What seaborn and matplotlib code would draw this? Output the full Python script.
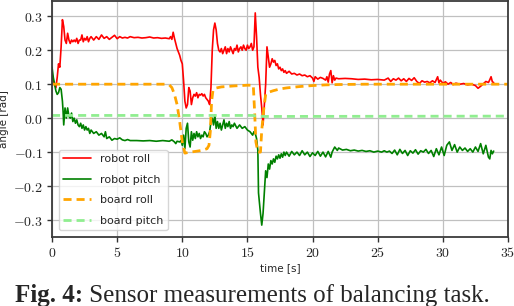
import numpy as np
import pandas as pd
import matplotlib
matplotlib.use('Agg')
import matplotlib.pyplot as plt
from matplotlib.ticker import FuncFormatter
import seaborn as sns

# robot roll (red)
roll_t = [0.0, 0.1, 0.2, 0.3, 0.4, 0.5, 0.6, 0.7, 0.8, 0.9, 1.0, 1.1, 1.2, 1.3, 1.4, 1.5, 1.6, 1.7,
          1.8, 1.9, 2.0, 2.1, 2.2, 2.3, 2.4, 2.5, 2.6, 2.7, 2.8, 2.9, 3.0, 3.2, 3.4, 3.6, 3.8, 4.0,
          4.2, 4.4, 4.6, 4.8, 5.0, 5.2, 5.4, 5.6, 5.8, 6.0, 6.3, 6.6, 6.9, 7.2, 7.5, 7.8, 8.1, 8.4,
          8.7, 9.0, 9.1, 9.2, 9.3, 9.4, 9.5, 9.6, 9.7, 9.8, 9.9, 10.0, 10.1, 10.2, 10.3, 10.4, 10.5,
          10.6, 10.7, 10.8, 10.9, 11.0, 11.1, 11.2, 11.3, 11.4, 11.5, 11.6, 11.7, 11.8, 11.9, 12.0,
          12.1, 12.2, 12.3, 12.4, 12.5, 12.6, 12.7, 12.8, 12.9, 13.0, 13.1, 13.2, 13.3, 13.4, 13.5,
          13.6, 13.7, 13.8, 13.9, 14.0, 14.1, 14.2, 14.3, 14.4, 14.5, 14.6, 14.7, 14.8, 14.9, 15.0,
          15.1, 15.2, 15.3, 15.4, 15.5, 15.6, 15.7, 15.8, 15.9, 16.0, 16.1, 16.2, 16.3, 16.4, 16.5,
          16.6, 16.7, 16.8, 16.9, 17.0, 17.1, 17.2, 17.3, 17.4, 17.5, 17.6, 17.7, 17.8, 17.9, 18.0,
          18.2, 18.4, 18.6, 18.8, 19.0, 19.2, 19.4, 19.6, 19.8, 20.0, 20.1, 20.2, 20.4, 20.6, 20.8,
          21.0, 21.1, 21.2, 21.3, 21.4, 21.5, 21.6, 21.7, 21.8, 22.0, 22.5, 23.0, 23.5, 24.0, 24.5,
          25.0, 25.5, 25.8, 26.0, 26.2, 26.4, 26.6, 26.8, 27.0, 27.2, 27.4, 27.6, 27.8, 28.0, 28.2,
          28.4, 28.6, 28.8, 29.0, 29.2, 29.4, 29.6, 29.7, 29.8, 30.0, 30.2, 30.4, 30.6, 30.8, 31.0,
          31.3, 31.6, 31.9, 32.2, 32.5, 32.7, 32.9, 33.1, 33.3, 33.5, 33.6, 33.7, 33.8, 33.9]
roll_v = [0.13, 0.11, 0.10, 0.09, 0.12, 0.16, 0.15, 0.21, 0.29, 0.27, 0.23, 0.22, 0.25, 0.23, 0.22,
          0.23, 0.225, 0.23, 0.225, 0.235, 0.22, 0.23, 0.23, 0.245, 0.225, 0.235, 0.23, 0.24, 0.225,
          0.235, 0.24, 0.23, 0.24, 0.232, 0.245, 0.235, 0.24, 0.232, 0.238, 0.244, 0.234, 0.24,
          0.236, 0.238, 0.236, 0.24, 0.237, 0.238, 0.236, 0.237, 0.239, 0.236, 0.237, 0.235, 0.236,
          0.234, 0.24, 0.232, 0.253, 0.235, 0.22, 0.205, 0.195, 0.185, 0.17, 0.16, 0.11, 0.05, 0.03,
          0.04, 0.09, 0.08, 0.04, 0.06, 0.07, 0.065, 0.075, 0.06, 0.07, 0.068, 0.072, 0.065, 0.07,
          0.06, 0.055, 0.05, 0.04, 0.09, 0.2, 0.26, 0.28, 0.26, 0.22, 0.2, 0.195, 0.205, 0.19, 0.2,
          0.21, 0.19, 0.205, 0.195, 0.21, 0.2, 0.19, 0.205, 0.2, 0.215, 0.195, 0.205, 0.21, 0.2,
          0.215, 0.205, 0.2, 0.215, 0.205, 0.21, 0.22, 0.2, 0.21, 0.31, 0.24, 0.15, 0.12, 0.07, 0.03,
          -0.02, 0.04, 0.1, 0.21, 0.18, 0.15, 0.16, 0.175, 0.165, 0.17, 0.155, 0.16, 0.145, 0.15,
          0.14, 0.145, 0.135, 0.14, 0.132, 0.138, 0.13, 0.132, 0.127, 0.13, 0.125, 0.127, 0.122,
          0.125, 0.118, 0.108, 0.122, 0.115, 0.12, 0.117, 0.112, 0.122, 0.106, 0.13, 0.14, 0.104,
          0.125, 0.112, 0.118, 0.116, 0.117, 0.116, 0.114, 0.115, 0.113, 0.114, 0.112, 0.118, 0.108,
          0.116, 0.112, 0.118, 0.11, 0.116, 0.108, 0.117, 0.111, 0.119, 0.108, 0.102, 0.11, 0.106,
          0.108, 0.104, 0.11, 0.105, 0.122, 0.104, 0.112, 0.103, 0.107, 0.1, 0.105, 0.099, 0.103,
          0.1, 0.102, 0.098, 0.1, 0.096, 0.088, 0.094, 0.101, 0.108, 0.105, 0.113, 0.122, 0.107, 0.105]

# robot pitch (green)
pitch_t = [0.0, 0.1, 0.2, 0.3, 0.4, 0.5, 0.6, 0.7, 0.8, 0.85, 0.9, 1.0, 1.1, 1.2, 1.3, 1.4, 1.5,
           1.6, 1.7, 1.8, 1.9, 2.0, 2.1, 2.2, 2.3, 2.4, 2.5, 2.6, 2.7, 2.8, 2.9, 3.0, 3.2, 3.4, 3.6,
           3.8, 4.0, 4.1, 4.2, 4.4, 4.6, 4.8, 5.0, 5.2, 5.4, 5.6, 5.8, 6.0, 6.5, 7.0, 7.5, 8.0, 8.5,
           9.0, 9.2, 9.4, 9.5, 9.6, 9.8, 9.9, 10.0, 10.1, 10.2, 10.3, 10.4, 10.5, 10.6, 10.7, 10.8,
           10.9, 11.0, 11.1, 11.2, 11.3, 11.4, 11.5, 11.6, 11.7, 11.8, 11.9, 12.0, 12.1, 12.2, 12.3,
           12.4, 12.5, 12.6, 12.7, 12.8, 12.9, 13.0, 13.1, 13.2, 13.3, 13.4, 13.5, 13.6, 13.7, 13.8,
           13.9, 14.0, 14.2, 14.4, 14.6, 14.8, 15.0, 15.2, 15.4, 15.5, 15.6, 15.7, 15.8, 15.85, 16.0,
           16.1, 16.2, 16.3, 16.4, 16.5, 16.6, 16.7, 16.8, 16.9, 17.0, 17.1, 17.2, 17.3, 17.4, 17.5,
           17.6, 17.7, 17.8, 17.9, 18.0, 18.2, 18.4, 18.6, 18.8, 19.0, 19.2, 19.4, 19.6, 19.8, 20.0,
           20.2, 20.4, 20.6, 20.8, 21.0, 21.2, 21.4, 21.5, 21.7, 21.9, 22.0, 22.3, 22.6, 22.9, 23.2,
           23.5, 23.8, 24.1, 24.4, 24.7, 25.0, 25.3, 25.5, 25.7, 25.9, 26.1, 26.3, 26.5, 26.7, 26.9,
           27.1, 27.3, 27.5, 27.7, 27.9, 28.1, 28.3, 28.5, 28.7, 28.9, 29.1, 29.3, 29.5, 29.7, 29.9,
           30.1, 30.3, 30.5, 30.7, 30.9, 31.1, 31.3, 31.5, 31.7, 31.9, 32.1, 32.3, 32.5, 32.7, 32.9,
           33.1, 33.3, 33.5, 33.6, 33.7, 33.8, 33.9]
pitch_v = [0.15, 0.12, 0.1, 0.08, 0.07, 0.075, 0.09, 0.085, 0.05, 0.02, -0.02, 0.03, 0.0, 0.03,
           0.005, 0.0, 0.015, -0.01, 0.0, -0.015, -0.005, -0.02, -0.025, -0.015, -0.03, -0.02,
           -0.035, -0.025, -0.035, -0.03, -0.045, -0.035, -0.045, -0.04, -0.05, -0.045, -0.055,
           -0.04, -0.06, -0.055, -0.065, -0.06, -0.062, -0.058, -0.064, -0.066, -0.063, -0.066,
           -0.066, -0.067, -0.066, -0.068, -0.066, -0.068, -0.064, -0.07, -0.075, -0.068, -0.07,
           -0.066, -0.08, -0.05, -0.09, -0.03, -0.015, -0.07, -0.085, -0.04, -0.065, -0.045, -0.06,
           -0.04, -0.055, -0.045, -0.06, -0.05, -0.055, -0.04, -0.045, -0.055, -0.05, -0.04, -0.01,
           0.0, -0.02, 0.01, -0.03, -0.01, -0.03, -0.015, -0.035, -0.02, -0.005, -0.03, -0.015,
           -0.025, -0.01, -0.03, -0.02, -0.025, -0.015, -0.03, -0.02, -0.03, -0.025, -0.035, -0.04,
           -0.05, -0.04, -0.045, -0.06, -0.095, -0.22, -0.28, -0.315, -0.28, -0.22, -0.155, -0.175,
           -0.135, -0.15, -0.125, -0.135, -0.12, -0.13, -0.112, -0.12, -0.108, -0.118, -0.105,
           -0.115, -0.1, -0.11, -0.1, -0.112, -0.098, -0.108, -0.1, -0.11, -0.096, -0.108, -0.1,
           -0.113, -0.102, -0.11, -0.098, -0.112, -0.1, -0.114, -0.098, -0.115, -0.1, -0.085, -0.095,
           -0.088, -0.094, -0.092, -0.096, -0.094, -0.097, -0.095, -0.098, -0.096, -0.1, -0.097,
           -0.1, -0.096, -0.1, -0.097, -0.104, -0.094, -0.108, -0.092, -0.104, -0.095, -0.11, -0.096,
           -0.103, -0.093, -0.106, -0.096, -0.1, -0.092, -0.104, -0.095, -0.113, -0.09, -0.108,
           -0.085, -0.11, -0.08, -0.07, -0.095, -0.078, -0.1, -0.085, -0.095, -0.088, -0.098, -0.09,
           -0.1, -0.085, -0.098, -0.075, -0.105, -0.08, -0.115, -0.12, -0.095, -0.105, -0.097]

# board roll (orange dashed)
board_roll_t = [0.0, 8.8, 9.0, 9.2, 9.4, 9.6, 9.8, 10.0, 10.2, 10.6, 11.0, 11.5, 11.9, 12.05, 12.15,
                12.25, 12.35, 12.5, 13.0, 14.0, 15.0, 15.45, 15.55, 15.65, 15.8, 16.0, 16.1, 16.25,
                16.4, 16.6, 17.0, 17.5, 18.0, 19.0, 20.0, 21.0, 22.0, 24.0, 35.0]
board_roll_v = [0.1, 0.1, 0.098, 0.09, 0.07, 0.04, -0.01, -0.07, -0.103, -0.1, -0.098, -0.095, -0.09,
                -0.08, -0.04, 0.05, 0.08, 0.088, 0.092, 0.095, 0.097, 0.097, 0.02, -0.07, -0.1, -0.1,
                -0.035, 0.025, 0.07, 0.076, 0.081, 0.086, 0.089, 0.093, 0.096, 0.098, 0.099, 0.1, 0.1]

# board pitch (light green dashed)
board_pitch_t = [0.0, 15.4, 15.8, 16.2, 35.0]
board_pitch_v = [0.008, 0.008, 0.005, 0.005, 0.006]

sns.set_style("whitegrid")
plt.rcParams['font.family'] = ['DejaVu Sans']
plt.rcParams['mathtext.fontset'] = 'cm'

fig = plt.figure(figsize=(5.14, 3.06), dpi=100)
ax = fig.add_axes([52 / 514, 1 - 237 / 306, 456 / 514, 236 / 306])

sns.lineplot(x=roll_t, y=roll_v, ax=ax, color='red', lw=1.2, sort=False,
             estimator=None, label='robot roll')
sns.lineplot(x=pitch_t, y=pitch_v, ax=ax, color='green', lw=1.2, sort=False,
             estimator=None, label='robot pitch')
sns.lineplot(x=board_roll_t, y=board_roll_v, ax=ax, color='orange', lw=2, sort=False,
             estimator=None, label='board roll', linestyle=(0, (2.9, 1.8)))
sns.lineplot(x=board_pitch_t, y=board_pitch_v, ax=ax, color='lightgreen', lw=2, sort=False,
             estimator=None, label='board pitch', linestyle=(0, (2.9, 1.8)))

ax.set_xlim(0, 35)
ax.set_ylim(-0.35, 0.345)
ax.set_xticks([0, 5, 10, 15, 20, 25, 30, 35])
ax.set_yticks([-0.3, -0.2, -0.1, 0.0, 0.1, 0.2, 0.3])
ax.xaxis.set_major_formatter(FuncFormatter(lambda v, p: f'${v:g}$'))
ax.yaxis.set_major_formatter(FuncFormatter(lambda v, p: f'${v:.1f}$'))
ax.tick_params(axis='both', which='major', labelsize=10, length=3.5, width=1,
               color='#333333', bottom=True, left=True, pad=3)

ax.grid(True, color='#c0c0c0', lw=0.9)
for s in ax.spines.values():
    s.set_color('#3a3a3a')
    s.set_linewidth(1.3)

ax.set_xlabel('time [s]', fontsize=7.5, labelpad=2)
ax.set_ylabel('angle [rad]', fontsize=7.5, labelpad=3)

ax.legend(loc='lower left', fontsize=8, labelspacing=0.95, handlelength=2.5,
          frameon=True, framealpha=0.8, edgecolor='#cccccc', borderaxespad=0.6)

cap = fig.text(15 / 514, 4 / 306, 'Fig. 4:', fontsize=18, fontweight='bold',
               family='Liberation Serif', va='baseline')
ax.annotate(' Sensor measurements of balancing task.', xy=(1, 0), xycoords=cap,
            fontsize=18, family='Liberation Serif', va='bottom', ha='left')

fig.savefig('out.png', dpi=100)
